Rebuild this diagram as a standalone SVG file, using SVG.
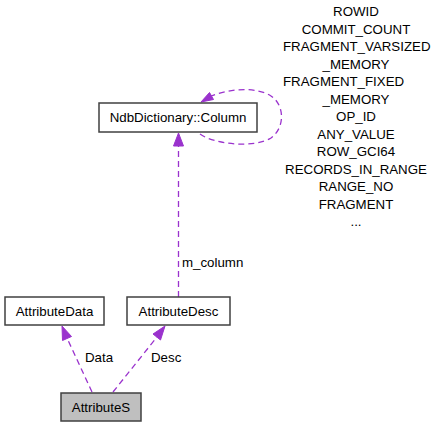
<svg xmlns="http://www.w3.org/2000/svg" width="437" height="427" viewBox="0 0 437 427">
<style>
.box{fill:#ffffff;stroke:#404040;stroke-width:1.5}
.cur{fill:#bfbfbf;stroke:#404040;stroke-width:1.5}
.t{font-family:"Liberation Sans",Arial,sans-serif;font-size:13.3px;fill:#000000}
.m{text-anchor:middle}
.e{fill:none;stroke:#9a32cd;stroke-width:1.3;stroke-dasharray:6,4}
.ah{fill:#9a32cd;stroke:#9a32cd;stroke-width:1}
</style>
<rect width="437" height="427" fill="#ffffff"/>
<g id="connectors">
<path class="e" d="M178.5,297 L178.5,146"/>
<polygon class="ah" points="178.5,133 173.5,146 183.5,146"/>
<path class="e" d="M92,392 L67,338"/>
<polygon class="ah" points="62,326 62.5,340.5 71.5,336.5"/>
<path class="e" d="M113,392 L157,337"/>
<polygon class="ah" points="165,326 153,334 160.5,340"/>
<path class="e" d="M200,134 C215,145 255,148 271,138 C285,128 285,105 271,96 C257,87 232,88 211,96"/>
<polygon class="ah" points="201,102 213.5,99.5 209.5,92.5"/>
<text class="t" x="182" y="267">m_column</text>
<text class="t" x="85" y="362">Data</text>
<text class="t" x="151" y="362">Desc</text>
<text class="t m" x="356" y="16">ROWID</text>
<text class="t m" x="356" y="33.5">COMMIT_COUNT</text>
<text class="t" x="283" y="51">FRAGMENT_VARSIZED</text>
<text class="t m" x="356" y="68.5">_MEMORY</text>
<text class="t" x="283" y="86">FRAGMENT_FIXED</text>
<text class="t m" x="356" y="103.5">_MEMORY</text>
<text class="t m" x="356" y="121">OP_ID</text>
<text class="t m" x="356" y="138.5">ANY_VALUE</text>
<text class="t m" x="356" y="156">ROW_GCI64</text>
<text class="t m" x="356" y="173.5">RECORDS_IN_RANGE</text>
<text class="t m" x="356" y="191">RANGE_NO</text>
<text class="t m" x="356" y="208.5">FRAGMENT</text>
<text class="t m" x="356" y="226">...</text>
</g>
<g id="NdbDictionary_Column">
<rect class="box" x="99" y="103" width="158" height="29"/>
<text class="t m" x="178" y="122">NdbDictionary::Column</text>
</g>
<g id="AttributeData">
<rect class="box" x="5" y="297" width="99" height="28"/>
<text class="t m" x="54.5" y="315.5">AttributeData</text>
</g>
<g id="AttributeDesc">
<rect class="box" x="127" y="297" width="103" height="28"/>
<text class="t m" x="178.5" y="315.5">AttributeDesc</text>
</g>
<g id="AttributeS">
<rect class="cur" x="61" y="393" width="80" height="28"/>
<text class="t m" x="101" y="411.5">AttributeS</text>
</g>
</svg>
